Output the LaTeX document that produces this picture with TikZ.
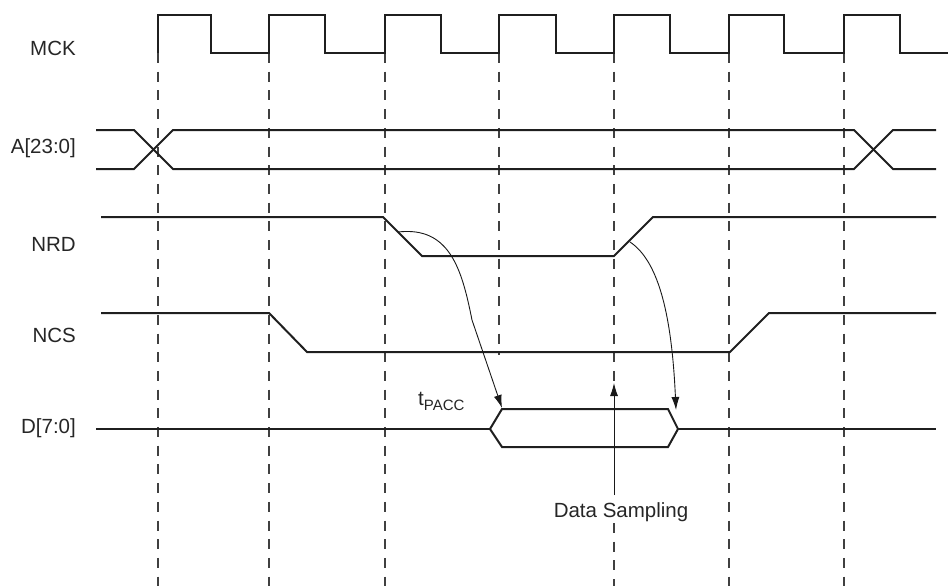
\documentclass[tikz,border=0pt]{standalone}
\usepackage{fontspec}
\setmainfont{Liberation Sans}
\usetikzlibrary{arrows.meta}
\begin{document}
\begin{tikzpicture}[x=1pt,y=-1pt,
  sig/.style={line width=2pt, line join=miter, color=black!88},
  guide/.style={line width=1.1pt, dash pattern=on 10pt off 8.7pt, color=black!75},
  lbl/.style={font=\fontsize{20.5}{24}\selectfont, anchor=east, inner sep=0pt, text=black!85},
  note/.style={font=\fontsize{20.5}{24}\selectfont, inner sep=0pt, text=black!85},
  timearrow/.style={line width=0.9pt, color=black!90, -{Latex[length=13pt,width=8pt]}}]
\useasboundingbox (0,0) rectangle (948,586);

% labels
\node[lbl] (lmck) at (76,48) {MCK};
\node[lbl] (la) at (76,148) {A[23:0]};
\node[lbl] (lnrd) at (76,244) {NRD};
\node[lbl] (lncs) at (76,335) {NCS};
\node[lbl] (ld) at (76,428) {D[7:0]};

% guide lines
\draw[guide] (158,53) -- (158,586);
\draw[guide] (269,53) -- (269,586);
\draw[guide] (385,53) -- (385,586);
\draw[guide] (499,53) -- (499,355);
\draw[guide] (614,53) -- (614,383);
\draw[guide] (614,523) -- (614,586);
\draw[guide] (729,53) -- (729,586);
\draw[guide] (844,53) -- (844,586);

% MCK
\draw[sig] (158,53) -- (158,15) -- (211,15) -- (211,53) -- (269,53) -- (269,15)
  -- (325,15) -- (325,53) -- (385,53) -- (385,15) -- (441,15) -- (441,53)
  -- (499,53) -- (499,15) -- (556,15) -- (556,53) -- (614,53) -- (614,15)
  -- (670,15) -- (670,53) -- (729,53) -- (729,15) -- (784,15) -- (784,53)
  -- (844,53) -- (844,15) -- (900,15) -- (900,53) -- (948,53);

% A[23:0]
\draw[sig] (96,130) -- (134,130) -- (173,169) -- (854,169) -- (893,130) -- (936,130);
\draw[sig] (96,169) -- (134,169) -- (173,130) -- (854,130) -- (893,169) -- (936,169);

% NRD
\draw[sig] (101,217) -- (383,217) -- (422,256) -- (614,256) -- (653,217) -- (936,217);

% NCS
\draw[sig] (101,313) -- (269,313) -- (307,352) -- (730,352) -- (769,313) -- (936,313);

% D[7:0]
\draw[sig] (96,429) -- (490,429);
\draw[sig] (490,429) -- (502,409) -- (668,409) -- (678,429) -- (668,447) -- (502,447) -- cycle;
\draw[sig] (678,429) -- (936,429);

% timing arrows
\coordinate (nrdfall) at (398,232);
\coordinate (dstart) at (502,408);
\coordinate (nrdrise) at (630,242);
\coordinate (dend) at (676,410);
\coordinate (samplefoot) at (614,495);
\coordinate (sampletip) at (614,383);

\draw[timearrow] (nrdfall) .. controls (450,226) and (462,270) .. (472,320) -- (dstart);
\draw[timearrow] (nrdrise) .. controls (660,262) and (672,320) .. (dend);
\draw[timearrow] (samplefoot) -- (sampletip);

\node[note, anchor=base west] (tpacc) at (418,405) {t\raisebox{-0.28em}{\fontsize{15}{16}\selectfont PACC}};
\node[note, anchor=base] (sampling) at (621,517) {Data Sampling};
\end{tikzpicture}
\end{document}
